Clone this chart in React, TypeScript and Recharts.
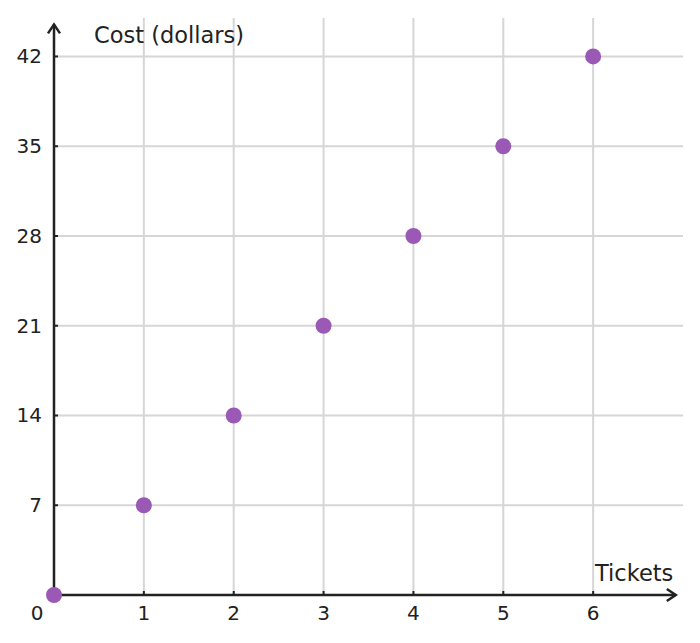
import React from "react"
import {
  ScatterChart,
  Scatter,
  XAxis,
  YAxis,
  CartesianGrid,
  ReferenceLine,
  Label,
} from "recharts"

const tickets = [0, 1, 2, 3, 4, 5, 6]
const cost = [0, 7, 14, 21, 28, 35, 42]
const xTicks = [0, 1, 2, 3, 4, 5, 6]
const yTicks = [7, 14, 21, 28, 35, 42]

const data = tickets.map((t, i) => ({ tickets: t, cost: cost[i] }))

const ink = "#222222"
const font = "DejaVu Sans, sans-serif"

const XTick = (props: any) => {
  const { x, y, payload } = props
  const isZero = payload.value === 0
  return (
    <g>
      {!isZero && <line x1={x} y1={y - 4} x2={x} y2={y} stroke={ink} strokeWidth={2} />}
      <text x={isZero ? x - 17 : x} y={y + 25} textAnchor="middle" fill={ink} fontSize={20} fontFamily={font}>
        {payload.value}
      </text>
    </g>
  )
}

const YTick = (props: any) => {
  const { x, y, payload } = props
  return (
    <g>
      <line x1={x} y1={y} x2={x + 4} y2={y} stroke={ink} strokeWidth={2} />
      <text x={x - 12} y={y + 7} textAnchor="end" fill={ink} fontSize={20} fontFamily={font}>
        {payload.value}
      </text>
    </g>
  )
}

const Arrow = (dir: "up" | "right") => (props: any) => {
  const { x1, y1, x2, y2 } = props
  const wings =
    dir === "up"
      ? `${x2 - 6},${y2 + 9} ${x2},${y2} ${x2 + 6},${y2 + 9}`
      : `${x2 - 9},${y2 - 6} ${x2},${y2} ${x2 - 9},${y2 + 6}`
  return (
    <g>
      <line x1={x1} y1={y1} x2={x2} y2={y2} stroke={ink} strokeWidth={2.5} />
      <polyline points={wings} fill="none" stroke={ink} strokeWidth={2.5} />
    </g>
  )
}

const Dot = (props: any) => <circle cx={props.cx} cy={props.cy} r={8} fill="#9b59b6" />

export default function App() {
  return (
    <div style={{ position: "absolute", left: 0, top: 0, background: "#fff" }}>
      <ScatterChart width={700} height={643} margin={{ top: 18, right: 17, bottom: 0, left: 0 }}>
        <CartesianGrid
          stroke="#d6d6d6"
          strokeWidth={2}
          horizontalValues={yTicks}
          verticalValues={xTicks.slice(1)}
        />
        <XAxis
          type="number"
          dataKey="tickets"
          domain={[0, 7]}
          ticks={xTicks}
          height={48}
          axisLine={false}
          tickLine={false}
          tickSize={0}
          tickMargin={0}
          tick={<XTick />}
          interval={0}
        >
          <Label
            content={() => (
              <text x={595} y={581} fill={ink} fontSize={22.5} fontFamily={font}>
                Tickets
              </text>
            )}
          />
        </XAxis>
        <YAxis
          type="number"
          dataKey="cost"
          domain={[0, 45]}
          ticks={yTicks}
          width={54}
          axisLine={false}
          tickLine={false}
          tickSize={0}
          tickMargin={0}
          tick={<YTick />}
          interval={0}
        >
          <Label
            content={() => (
              <text x={94} y={43} fill={ink} fontSize={22.5} fontFamily={font}>
                Cost (dollars)
              </text>
            )}
          />
        </YAxis>
        <ReferenceLine segment={[{ x: 0, y: 0 }, { x: 0, y: 44.5 }]} shape={Arrow("up")} />
        <ReferenceLine segment={[{ x: 0, y: 0 }, { x: 6.92, y: 0 }]} shape={Arrow("right")} />
        <Scatter data={data} shape={Dot} isAnimationActive={false} />
      </ScatterChart>
    </div>
  )
}
